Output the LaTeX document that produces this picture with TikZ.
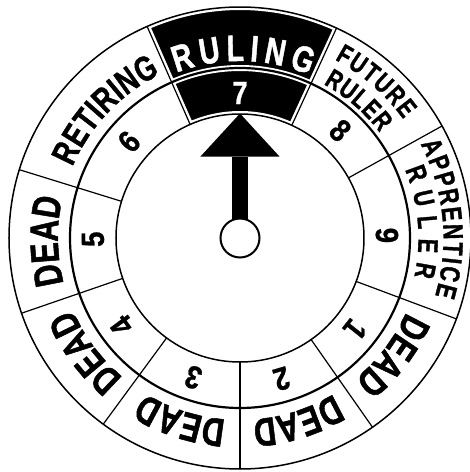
\documentclass[tikz,border=0pt]{standalone}
\usepackage{fontspec}
\usetikzlibrary{decorations.text, arrows.meta}
\newfontfamily\labfont[FakeStretch=0.76, FakeBold=1.2]{Liberation Sans}
\newfontfamily\numfont[FakeStretch=0.86, FakeBold=0.8]{Liberation Sans}

\begin{document}
\begin{tikzpicture}[x=1pt, y=1pt,
    rim/.style={line width=1.5pt},
    ring/.style={line width=2.2pt},
    divider/.style={line width=1.2pt},
    halo/.style={white, line width=6pt},
    num/.style={font=\numfont\bfseries\fontsize{32}{32}\selectfont, inner sep=0pt},
    arclabel/.style={decorate, decoration={text along path, text align={fit to path}, text={#1}}},
    pointer/.style={line width=16.6pt, -{Triangle[length=43pt, width=79pt, line width=0pt]}},
    hub/.style={circle, draw, line width=2pt, fill=white, minimum size=39pt, inner sep=0pt},
]

\clip (-240,-234) rectangle (230,238);

% Ruling cell (black, with white gaps round it)
\fill (65.3:124) -- (65.3:231) arc[start angle=65.3, end angle=113.7, radius=231pt]
    -- (113.7:124) arc[start angle=113.7, end angle=65.3, radius=124pt] -- cycle;
\draw[halo] (65.3:124) -- (65.3:231) (113.7:124) -- (113.7:231);
\draw[halo] (65.3:124) arc[start angle=65.3, end angle=113.7, radius=124pt];
\draw[halo] (65.3:170) arc[start angle=65.3, end angle=113.7, radius=170pt];
\draw[halo] (65.3:231) arc[start angle=65.3, end angle=113.7, radius=231pt];

% Rings
\draw[rim] (0,0) circle[radius=231pt];
\draw[ring] (0,0) circle[radius=170pt];
\draw[rim] (0,0) circle[radius=124pt];

% Dividers
\foreach \a in {29,65.3,113.7,162.8,199,233.7,270,305,339.5}
  \draw[divider] (\a:124) -- (\a:231);

% Numbers
\foreach \n/\a in {1/321.5, 2/286.5, 3/251.5, 4/216.5, 5/180.5, 6/139, 8/47, 9/1}
  \node[num, rotate=\a-90] (n\n) at (\a:147) {\n};
\node[num, white] (n7) at (90:145) {7};

% Outer labels
\foreach \c in {181,216.5,252,287.5,322.5}
  \path[arclabel={|\labfont\bfseries\fontsize{40}{40}\selectfont|DEAD}]
    ({\c+13.5}:182) arc[start angle=\c+13.5, end angle=\c-13.5, radius=182pt];
\path[arclabel={|\labfont\bfseries\color{white}\fontsize{37}{37}\selectfont|RULING}]
  (111:177) arc[start angle=111, end angle=67, radius=177pt];
\path[arclabel={|\labfont\bfseries\fontsize{35}{35}\selectfont|RETIRING}]
  (157:182) arc[start angle=157, end angle=116, radius=182pt];
\path[arclabel={|\labfont\bfseries\fontsize{27}{27}\selectfont|FUTURE}]
  (62:202) arc[start angle=62, end angle=36, radius=202pt];
\path[arclabel={|\labfont\bfseries\fontsize{27}{27}\selectfont|RULER}]
  (61.5:175) arc[start angle=61.5, end angle=37, radius=175pt];
\path[arclabel={|\labfont\bfseries\fontsize{28}{28}\selectfont|APPRENTICE}]
  (27.5:203.5) arc[start angle=27.5, end angle=-16.5, radius=203.5pt];
\path[arclabel={|\labfont\bfseries\fontsize{28}{28}\selectfont|RULER}]
  (22.5:178.5) arc[start angle=22.5, end angle=-12.5, radius=178.5pt];

% Pointer
\coordinate (pivot) at (0,0);
\coordinate (tip) at (90:124.5);
\draw[pointer] (pivot) -- (tip);
\node[hub] (hub) at (pivot) {};

\end{tikzpicture}
\end{document}
